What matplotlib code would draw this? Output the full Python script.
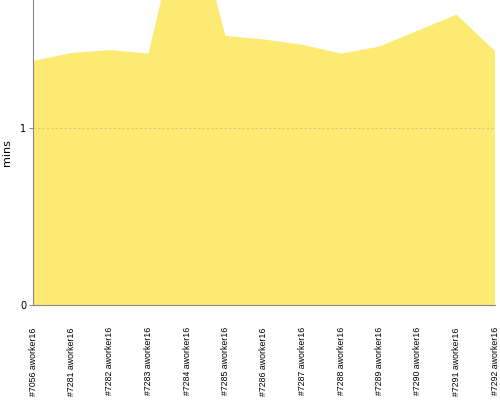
import matplotlib
matplotlib.use("Agg")
import matplotlib.pyplot as plt
import numpy as np

labels = ["#7056 aworker16", "#7281 aworker16", "#7282 aworker16", "#7283 aworker16",
          "#7284 aworker16", "#7285 aworker16", "#7286 aworker16", "#7287 aworker16",
          "#7288 aworker16", "#7289 aworker16", "#7290 aworker16", "#7291 aworker16",
          "#7292 aworker16"]
values = [1.378, 1.424, 1.44, 1.42, 2.34, 1.52, 1.50, 1.47, 1.42, 1.46, 1.55, 1.64, 1.435]

fig = plt.figure(figsize=(5, 4), dpi=100)
ax = fig.add_axes([0.066, 0.2375, 0.924, 0.7625])
x = np.arange(len(values))
ax.fill_between(x, values, 0, color="#fcea72", linewidth=0, zorder=1)
ax.axhline(1, color="#d8cc70", linestyle=(0, (2, 2)), linewidth=0.8, zorder=2)

ax.set_xlim(0, len(values) - 1)
ax.set_ylim(0, 1.723)
ax.set_yticks([0, 1])
ax.set_yticklabels(["0", "1"], fontsize=7)
ax.set_xticks(x)
ax.set_xticklabels(labels, rotation=90, fontsize=6.3, va="top", ha="center",
                   family=["Liberation Sans", "DejaVu Sans"])
ax.tick_params(axis="x", length=0, pad=16)
ax.tick_params(axis="y", length=3, color="#888888", width=0.8, pad=2)
for side in ["top", "right"]:
    ax.spines[side].set_visible(False)
for side in ["left", "bottom"]:
    ax.spines[side].set_color("#888888")
    ax.spines[side].set_linewidth(0.8)
ax.set_ylabel("mins", fontsize=8, labelpad=6)
fig.savefig("out.png", dpi=100)
